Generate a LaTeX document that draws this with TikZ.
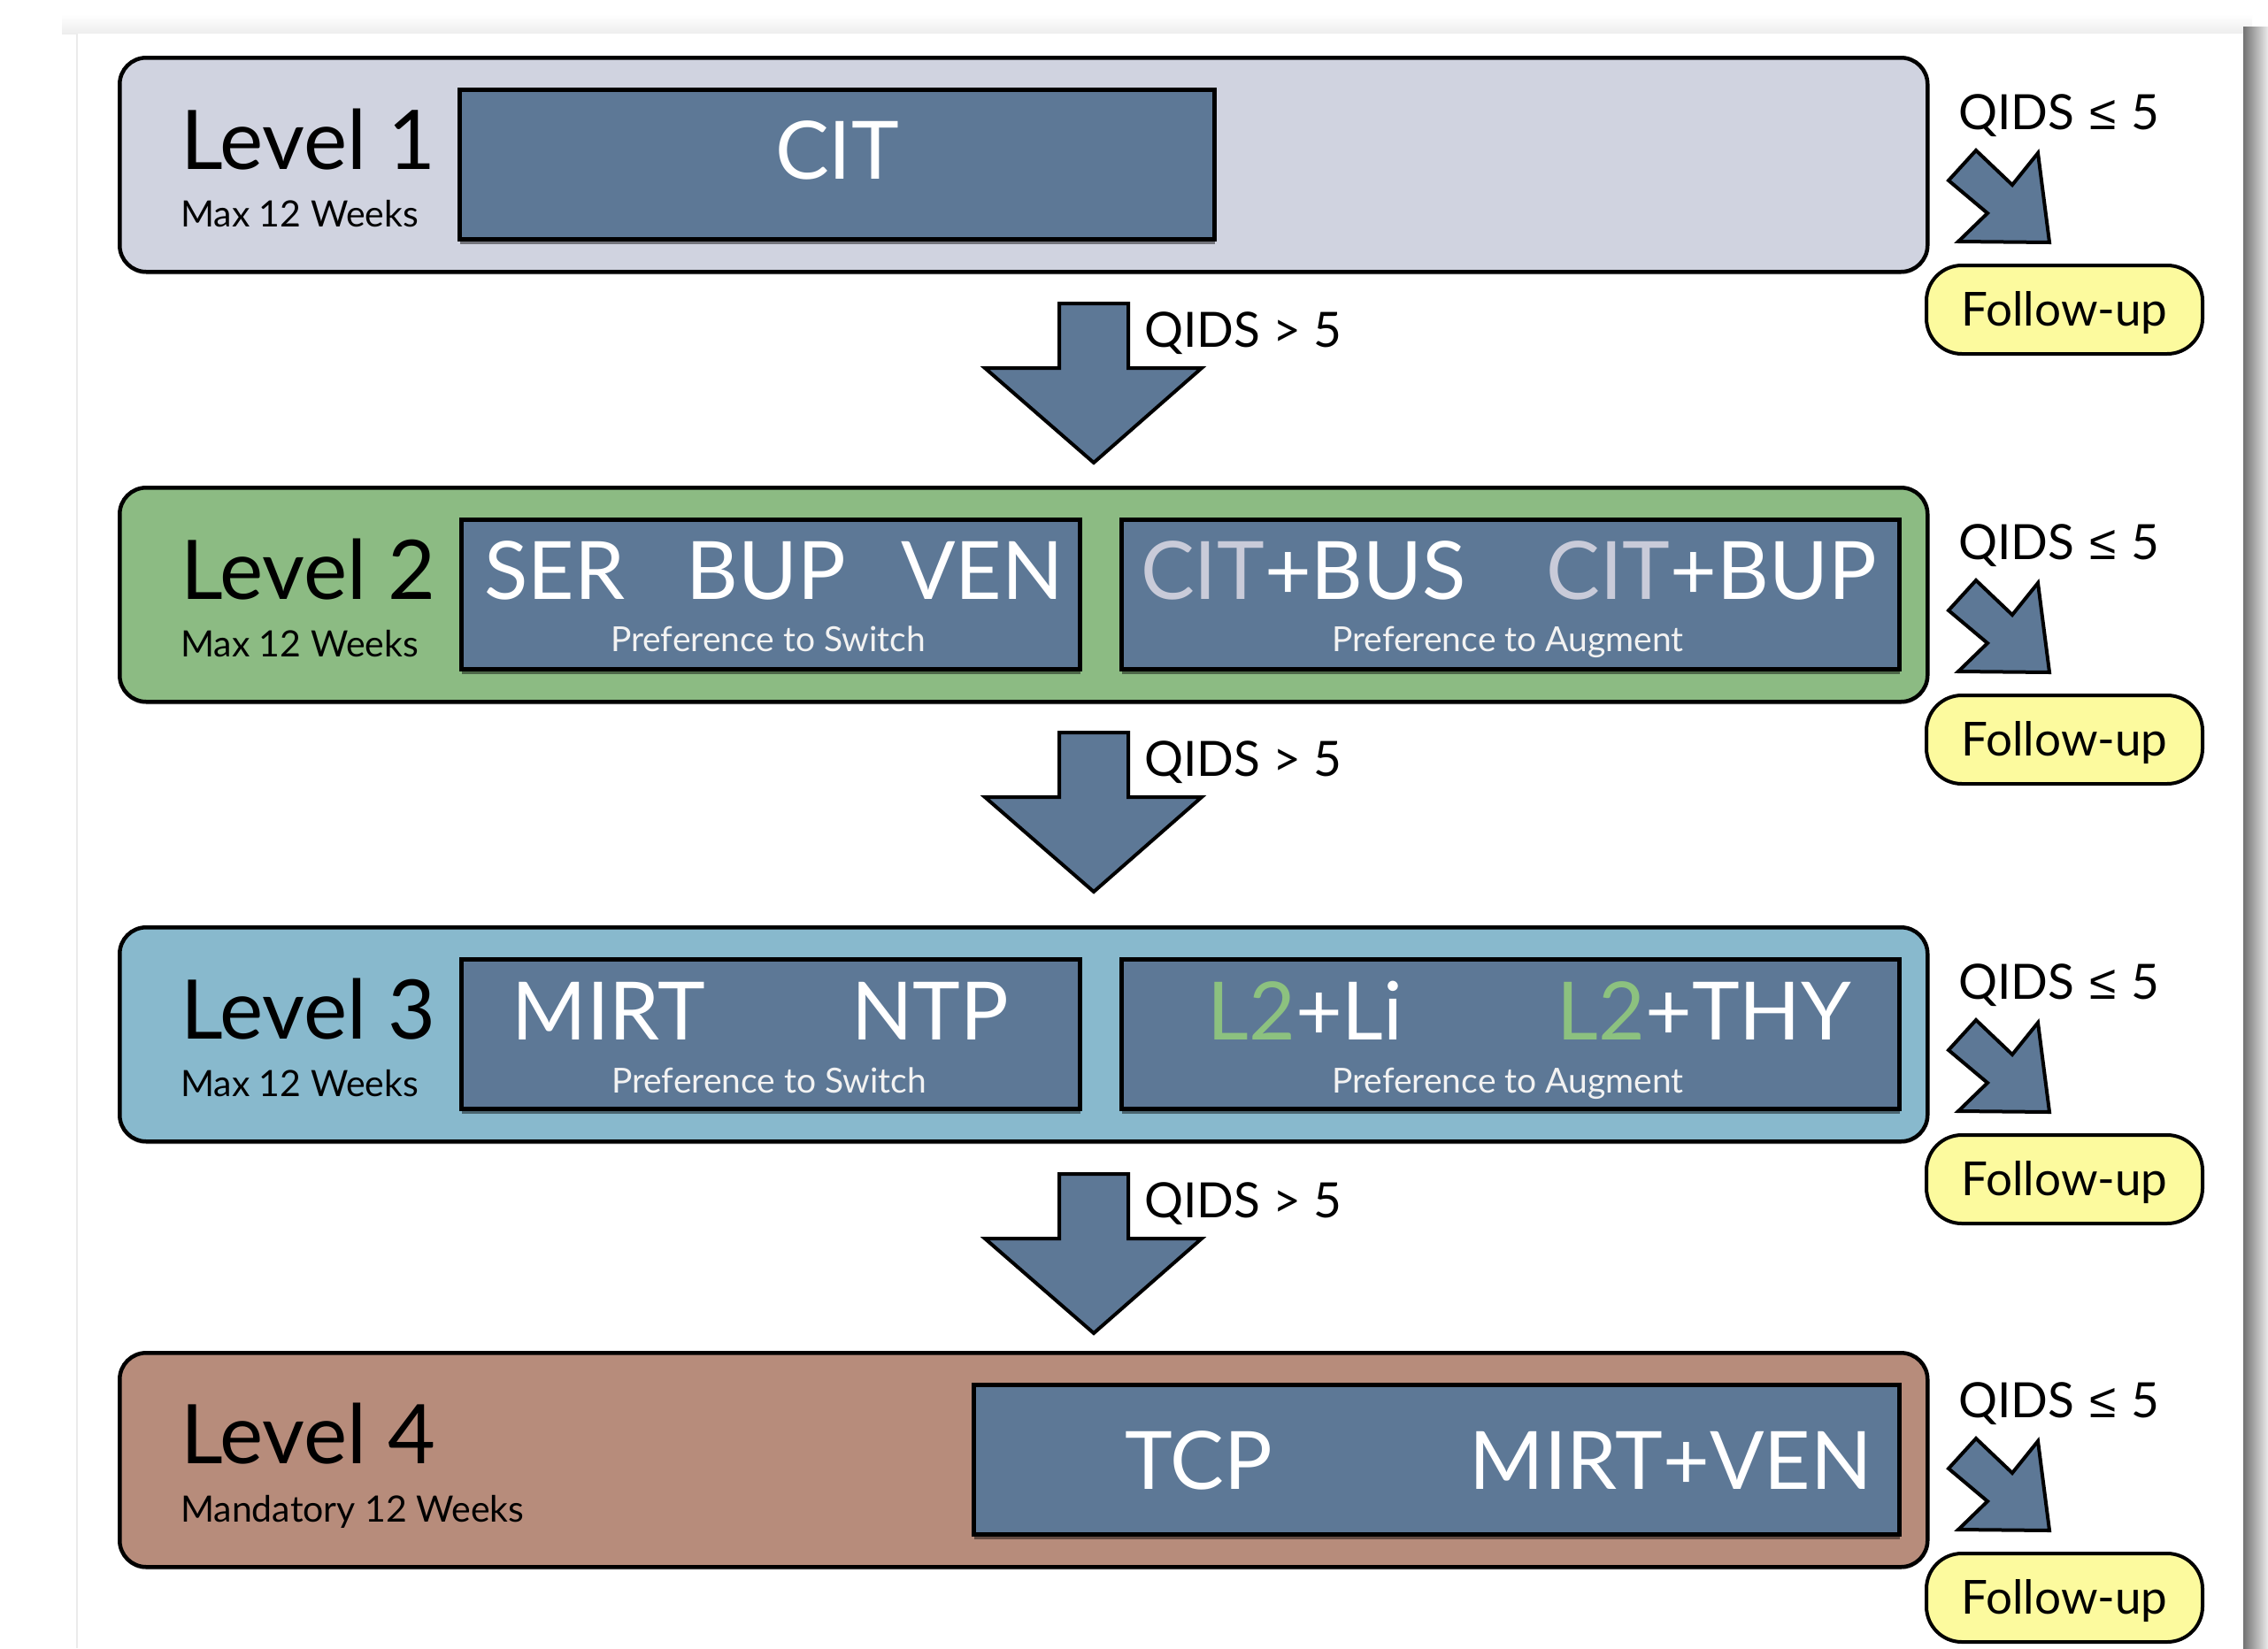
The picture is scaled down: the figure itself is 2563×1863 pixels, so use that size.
\documentclass[tikz,border=0pt]{standalone}
\usepackage{fontspec}
\setmainfont{Lato}
\newfontfamily\relfont{Liberation Sans}
\usetikzlibrary{shadows}

\definecolor{slate}{HTML}{5D7896}
\definecolor{lvlA}{HTML}{D0D3E0}
\definecolor{lvlB}{HTML}{8CBB83}
\definecolor{lvlC}{HTML}{88B9CD}
\definecolor{lvlD}{HTML}{B78C7B}
\definecolor{fup}{HTML}{FCFA9E}
\definecolor{citgray}{HTML}{C9CBD9}
\definecolor{ltgreen}{HTML}{8CC17F}

\newcommand\pxfont[1]{\fontsize{#1}{#1}\selectfont}

\tikzset{
  levelbox/.style={draw=black, line width=4.5, rounded corners=30,
    minimum width=2043, minimum height=242, anchor=north west, inner sep=0,
    drop shadow={shadow xshift=0pt, shadow yshift=-3pt, opacity=0.25, fill=black}},
  tbox/.style={draw=black, line width=5, fill=slate, anchor=north west,
    inner sep=0, minimum height=169,
    drop shadow={shadow xshift=0pt, shadow yshift=-5pt, opacity=0.45, fill=black}},
  lvltitle/.style={anchor=base west, inner sep=0, font=\pxfont{93}},
  lvlsub/.style={anchor=base west, inner sep=0, font=\pxfont{41}},
  drug/.style={anchor=base, inner sep=0, text=white, font=\pxfont{91}},
  pref/.style={anchor=base, inner sep=0, text=white!95!black, font=\pxfont{39}},
  qids/.style={anchor=base west, inner sep=0, font=\pxfont{55}},
  fupbox/.style={draw=black, line width=4, fill=fup, rounded corners=40,
    minimum width=312, minimum height=100, anchor=north west, inner sep=0},
  fuptext/.style={anchor=base, inner sep=0, font=\pxfont{53}},
  blockarrow/.style={draw=black, line width=4, fill=slate, line join=miter},
}

\begin{document}
\begin{tikzpicture}[x=1pt,y=-1pt]
\useasboundingbox (0,0) rectangle (2563,1863);

% sheet of paper with its shadow
\fill[white] (0,0) rectangle (2563,1863);
\shade[top color=white, bottom color=black!7] (70,16) rectangle (2545,38);
\shade[left color=black!55, right color=black!8] (2535,30) rectangle (2563,1863);
\fill[white] (87,38) rectangle (2535,1863);
\draw[black!8, line width=1.5] (87,38) -- (87,1863);

% ---------------- Level 1 ----------------
\node[levelbox, fill=lvlA] (L1) at (133,63) {};
\node[tbox, minimum width=853] (L1t) at (517,99) {};
\node[lvltitle] (L1n) at (204,191) {Level 1};
\node[lvlsub] (L1s) at (204,256) {Max 12 Weeks};
\node[drug] (L1a) at (946,202) {CIT};

% ---------------- Level 2 ----------------
\node[levelbox, fill=lvlB] (L2) at (133,549) {};
\node[tbox, minimum width=699] (L2l) at (519,585) {};
\node[tbox, minimum width=879] (L2r) at (1265,585) {};
\node[lvltitle] (L2n) at (204,677) {Level 2};
\node[lvlsub] (L2s) at (204,742) {Max 12 Weeks};
\node[drug] (L2a) at (627,677) {SER};
\node[drug] (L2b) at (866,677) {BUP};
\node[drug] (L2c) at (1110,677) {VEN};
\node[pref] (L2p) at (868,736) {Preference to Switch};
\node[drug] (L2d) at (1473,677) {{\color{citgray}CIT}+BUS};
\node[drug] (L2e) at (1934,677) {{\color{citgray}CIT}+BUP};
\node[pref] (L2q) at (1704,736) {Preference to Augment};

% ---------------- Level 3 ----------------
\node[levelbox, fill=lvlC] (L3) at (133,1046) {};
\node[tbox, minimum width=699] (L3l) at (519,1082) {};
\node[tbox, minimum width=879] (L3r) at (1265,1082) {};
\node[lvltitle] (L3n) at (204,1174) {Level 3};
\node[lvlsub] (L3s) at (204,1239) {Max 12 Weeks};
\node[drug] (L3a) at (688,1175) {MIRT};
\node[drug] (L3b) at (1051,1175) {NTP};
\node[pref] (L3p) at (869,1235) {Preference to Switch};
\node[drug] (L3c) at (1475,1175) {{\color{ltgreen}L2}+Li};
\node[drug] (L3d) at (1926,1175) {{\color{ltgreen}L2}+THY};
\node[pref] (L3q) at (1704,1235) {Preference to Augment};

% ---------------- Level 4 ----------------
\node[levelbox, fill=lvlD] (L4) at (133,1527) {};
\node[tbox, minimum width=1046] (L4t) at (1098,1563) {};
\node[lvltitle] (L4n) at (204,1654) {Level 4};
\node[lvlsub] (L4s) at (204,1720) {Mandatory 12 Weeks};
\node[drug] (L4a) at (1355,1683) {TCP};
\node[drug] (L4b) at (1888,1683) {MIRT+VEN};

% ---------------- downward block arrows ----------------
\foreach \t [count=\i] in {343,828,1327} {
  \coordinate (D\i) at (1236,\t);
  \draw[blockarrow, shift={(D\i)}]
    (-39,0) -- (39,0) -- (39,73) -- (122,73) -- (0,180) -- (-123,73) -- (-39,73) -- cycle;
  \node[qids] (G\i) at (1293,\t+49) {QIDS > 5};
}

% ---------------- exits to follow-up ----------------
\foreach \t [count=\i] in {63,549,1046,1519} {
  \node[qids] (Q\i) at (2213,\t+83) {QIDS\hspace{17pt}{\relfont ≤}\hspace{17pt}5};
  \coordinate (E\i) at (2202,\t);
  \draw[blockarrow, shift={(E\i)}]
    (0,141) -- (31,107) -- (72,146) -- (101,110) -- (114,211) -- (11,210) -- (44,178) -- cycle;
  \node[fupbox] (F\i) at (2175,\t+235) {};
  \node[fuptext] (Ft\i) at (F\i.center |- 0,\t+305) {Follow-up};
}
\end{tikzpicture}
\end{document}
